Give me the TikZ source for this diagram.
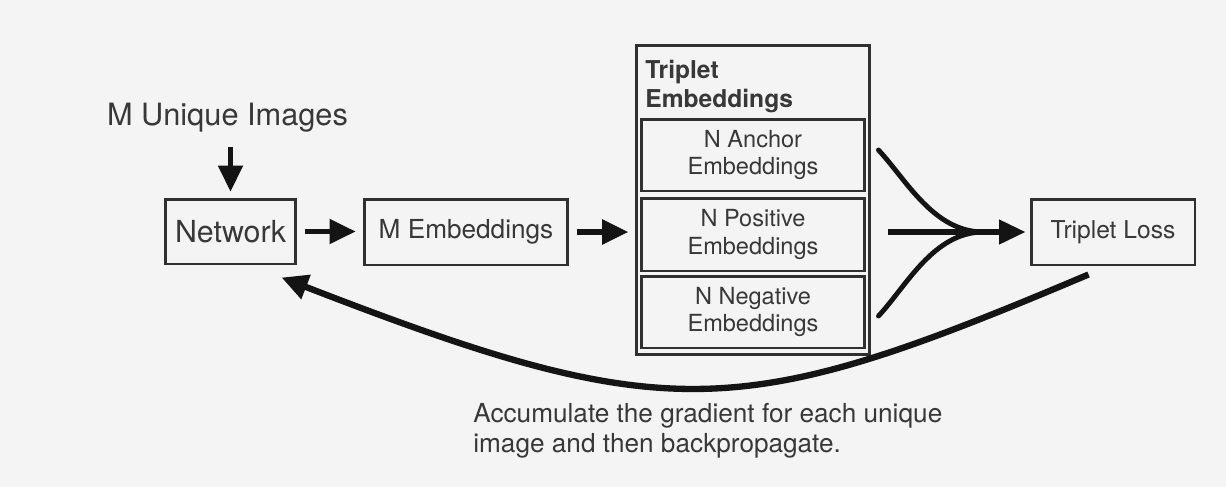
\documentclass[tikz,border=0pt]{standalone}
\usepackage{fontspec}
\setmainfont{TeX Gyre Heros}
\usetikzlibrary{arrows.meta,calc}
\definecolor{bg}{HTML}{F4F4F4}
\definecolor{ln}{HTML}{141414}
\definecolor{bx}{HTML}{303030}
\definecolor{tx}{HTML}{383838}
\begin{document}
\begin{tikzpicture}[x=0.02cm,y=-0.02cm,
  box/.style={draw=bx, line width=1.7pt, inner sep=0pt, text=tx, rectangle},
  arr/.style={draw=ln, line width=3.4pt, -{Triangle[length=15pt,width=13.5pt]}},
  fan/.style={draw=ln, line width=2.8pt},
  inner/.style={box, align=center, minimum width=4.48cm, font=\fontsize{13.4}{15.9}\selectfont}]
\fill[bg] (0,0) rectangle (1226,487);
\useasboundingbox (0,0) rectangle (1226,487);

\node[anchor=base, text=tx, font=\fontsize{17.5}{20}\selectfont] (mu) at (227.5,125) {M Unique Images};
\node[box, minimum width=2.62cm, minimum height=1.30cm, font=\fontsize{17.3}{20}\selectfont] (net) at (230.5,231.5) {Network};
\node[box, minimum width=4.08cm, minimum height=1.32cm, font=\fontsize{14.9}{18}\selectfont] (memb) at (466,232) {M Embeddings};

\node[box, minimum width=4.68cm, minimum height=6.2cm] (trip) at (753,200) {};
\node[anchor=north west, inner sep=0pt, text=tx, align=left, font=\fontsize{14}{16.4}\selectfont\bfseries] (title) at (645,60) {Triplet\\Embeddings};
\node[inner, minimum height=1.44cm] (anc) at (753,155) {N Anchor\\Embeddings};
\node[inner, minimum height=1.46cm] (pos) at (753,234.5) {N Positive\\Embeddings};
\node[inner, minimum height=1.44cm] (neg) at (753,312) {N Negative\\Embeddings};

\node[box, minimum width=3.28cm, minimum height=1.32cm, font=\fontsize{14}{17}\selectfont] (tl) at (1113,232) {Triplet Loss};

\node[anchor=north west, inner sep=0pt, text=tx, align=left, font=\fontsize{14.9}{17}\selectfont] (note) at (473,403) {Accumulate the gradient for each unique\\image and then backpropagate.};

% connectors
\draw[arr, shorten <=5pt, shorten >=3.2pt] (net.north |- mu.south) -- (net.north);
\draw[arr, shorten <=4pt, shorten >=3.8pt] (net.east) -- (net.east -| memb.west);
\draw[arr, shorten <=4pt, shorten >=3.4pt] (memb.east) -- (memb.east -| trip.west);

\coordinate (m) at ($(tl.west)+(-46,0)$);
\coordinate (fa) at ($(anc.east)+(12,-5)$);
\coordinate (fn) at ($(neg.east)+(12,4)$);
\draw[fan, line cap=round] (fa) .. controls ($(fa)+(28,30)$) and ($(m)+(-50,0)$) .. (m);
\draw[fan, line cap=round] (fn) .. controls ($(fn)+(28,-30)$) and ($(m)+(-50,0)$) .. (m);
\draw[arr, line width=2.9pt, shorten <=9.6pt, shorten >=2.3pt] (trip.east |- tl.west) -- (tl.west);

\coordinate (bs) at ($(tl.south west)+(59,8)$);
\coordinate (be) at ($(net.south east)+(-16,12)$);
\draw[arr, line width=3.6pt, -{Triangle[length=15pt,width=14pt]}] (bs) .. controls (740,422) and (670,428) .. (be);
\end{tikzpicture}
\end{document}
